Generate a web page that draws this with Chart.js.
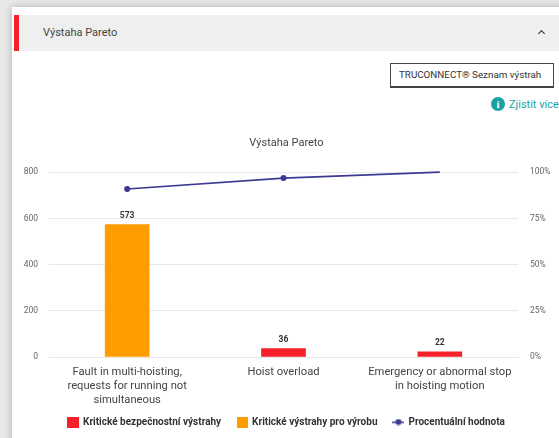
<!DOCTYPE html>
<html>
<head>
<meta charset="utf-8">
<title>Výstaha Pareto</title>
<script src="https://cdn.jsdelivr.net/npm/chart.js@4"></script>
<style>
html, body { margin: 0; padding: 0; width: 559px; height: 438px; overflow: hidden; background: #e9e9e9; font-family: Roboto, sans-serif; }
#card { position: absolute; left: 12px; top: 7px; width: 560px; height: 440px; background: #fff; box-shadow: 0 0 8px rgba(0,0,0,.25); }
#head { position: absolute; left: 14px; top: 15px; width: 545px; height: 36px; background: #efefef; }
#bar { position: absolute; left: 14px; top: 15px; width: 5px; height: 36px; background: #f5202a; }
#name { position: absolute; left: 43px; top: 26px; font-size: 11px; line-height: 14px; color: #444; }
#arrow { position: absolute; left: 539px; top: 31px; width: 4px; height: 4px; border-left: 1.5px solid #333; border-top: 1.5px solid #333; transform: rotate(45deg); }
#btn { position: absolute; left: 390px; top: 63px; width: 164px; height: 25px; box-sizing: border-box; border: 1px solid #444; border-bottom-width: 2px; padding-left: 8px; font-size: 9.8px; line-height: 22px; color: #333; white-space: nowrap; }
#info { position: absolute; left: 491px; top: 97px; width: 14px; height: 14px; border-radius: 50%; background: #17a2a8; color: #fff; font: bold 11px/14px "Liberation Serif", serif; text-align: center; }
#more { position: absolute; left: 509px; top: 98px; font-size: 11px; line-height: 14px; color: #17a2a8; white-space: nowrap; }
#wrap { position: absolute; left: 14px; top: 130px; width: 545px; height: 308px; }
</style>
</head>
<body>
<div id="card"></div>
<div id="head"></div>
<div id="bar"></div>
<div id="name">Výstaha Pareto</div>
<div id="arrow"></div>
<div id="btn">TRUCONNECT® Seznam výstrah</div>
<div id="info">i</div>
<div id="more">Zjistit více</div>
<div id="wrap"><canvas id="pareto"></canvas></div>
<script>
var categories = [
    ["Fault in multi-hoisting,", "requests for running not", "simultaneous"],
    "Hoist overload",
    ["Emergency or abnormal stop", "in hoisting motion"]
];
var safetyAlerts = [null, 36, 22];
var productionAlerts = [573, null, null];
var percentValues = [90.9, 96.8, 100];
var leftTicks = [0, 200, 400, 600, 800];
var rightTicks = [0, 25, 50, 75, 100];

// little canvases for the legend symbols
function swatch(w, h, color) {
    var c = document.createElement('canvas');
    c.width = w; c.height = h;
    var g = c.getContext('2d');
    g.fillStyle = color;
    g.fillRect(0, 0, w, h);
    return c;
}
function lineSwatch(color) {
    var c = document.createElement('canvas');
    c.width = 12; c.height = 7;
    var g = c.getContext('2d');
    g.fillStyle = color;
    g.fillRect(0, 3, 12, 1.5);
    g.beginPath();
    g.arc(6, 3.5, 3, 0, Math.PI * 2);
    g.fill();
    return c;
}

var barLabels = {
    id: 'barLabels',
    // x axis was shortened in afterFit, give its labels their room back so they don't get clipped
    afterLayout: function(chart) {
        chart.scales.x.bottom += 6;
    },
    afterDatasetsDraw: function(chart) {
        var ctx = chart.ctx;
        ctx.save();
        ctx.font = 'bold 8.5px Roboto';
        ctx.fillStyle = '#333';
        ctx.textAlign = 'center';
        ctx.textBaseline = 'bottom';
        [0, 1].forEach(function(d) {
            chart.getDatasetMeta(d).data.forEach(function(bar, i) {
                var v = chart.data.datasets[d].data[i];
                if (v !== null) ctx.fillText(v, bar.x, bar.y - 5);
            });
        });
        ctx.restore();
    }
};

new Chart(document.getElementById('pareto'), {
    data: {
        labels: categories,
        datasets: [
            { type: 'bar', label: 'Kritické bezpečnostní výstrahy', data: safetyAlerts, backgroundColor: '#f5202a', barThickness: 44, yAxisID: 'y', order: 2 },
            { type: 'bar', label: 'Kritické výstrahy pro výrobu', data: productionAlerts, backgroundColor: '#ff9c00', barThickness: 44, yAxisID: 'y', order: 2 },
            { type: 'line', label: 'Procentuální hodnota', data: percentValues, borderColor: '#3c3a94', backgroundColor: '#3c3a94', borderWidth: 1.7, tension: 0, pointRadius: [3, 3, 0], pointBorderWidth: 0, yAxisID: 'y1', order: 1, clip: false }
        ]
    },
    options: {
        responsive: true,
        maintainAspectRatio: false,
        animation: false,
        layout: { padding: { left: 0, right: 0, top: 7, bottom: 1 } },
        plugins: {
            title: { display: true, text: 'Výstaha Pareto', color: '#444', font: { family: 'Roboto', size: 11, weight: 'normal' }, padding: { top: 0, bottom: 22 } },
            tooltip: { enabled: false },
            legend: {
                position: 'bottom',
                labels: {
                    usePointStyle: true,
                    color: '#333',
                    font: { family: 'Roboto', size: 10, weight: 'bold' },
                    padding: 16,
                    generateLabels: function(chart) {
                        var items = Chart.defaults.plugins.legend.labels.generateLabels(chart);
                        items.sort(function(a, b) { return a.datasetIndex - b.datasetIndex; });
                        items[0].pointStyle = swatch(12, 11, '#f5202a');
                        items[1].pointStyle = swatch(11, 11, '#ff9c00');
                        items[2].pointStyle = lineSwatch('#3c3a94');
                        return items;
                    }
                }
            }
        },
        scales: {
            x: {
                stacked: true,
                grid: { display: false },
                border: { color: '#e6e6e6' },
                afterFit: function(s) { s.height -= 6; },
                ticks: { color: '#444', font: { family: 'Roboto', size: 11.2, lineHeight: 1.25 }, maxRotation: 0, autoSkip: false, padding: 0 }
            },
            y: {
                stacked: true,
                min: 0, max: 800,
                afterBuildTicks: function(s) { s.ticks = leftTicks.map(function(v) { return { value: v }; }); },
                afterFit: function(s) { s.width = 35; },
                grid: { color: '#e9e9e9', drawTicks: false },
                border: { display: false },
                ticks: { color: '#666', font: { family: 'Roboto', size: 8.5 }, padding: 11 }
            },
            y1: {
                position: 'right',
                min: 0, max: 100,
                afterBuildTicks: function(s) { s.ticks = rightTicks.map(function(v) { return { value: v }; }); },
                afterFit: function(s) { s.width = 41; },
                grid: { drawOnChartArea: false, drawTicks: false },
                border: { display: false },
                ticks: { color: '#666', font: { family: 'Roboto', size: 8.5 }, padding: 12, callback: function(v) { return v + '%'; } }
            }
        }
    },
    plugins: [barLabels]
});
</script>
</body>
</html>
